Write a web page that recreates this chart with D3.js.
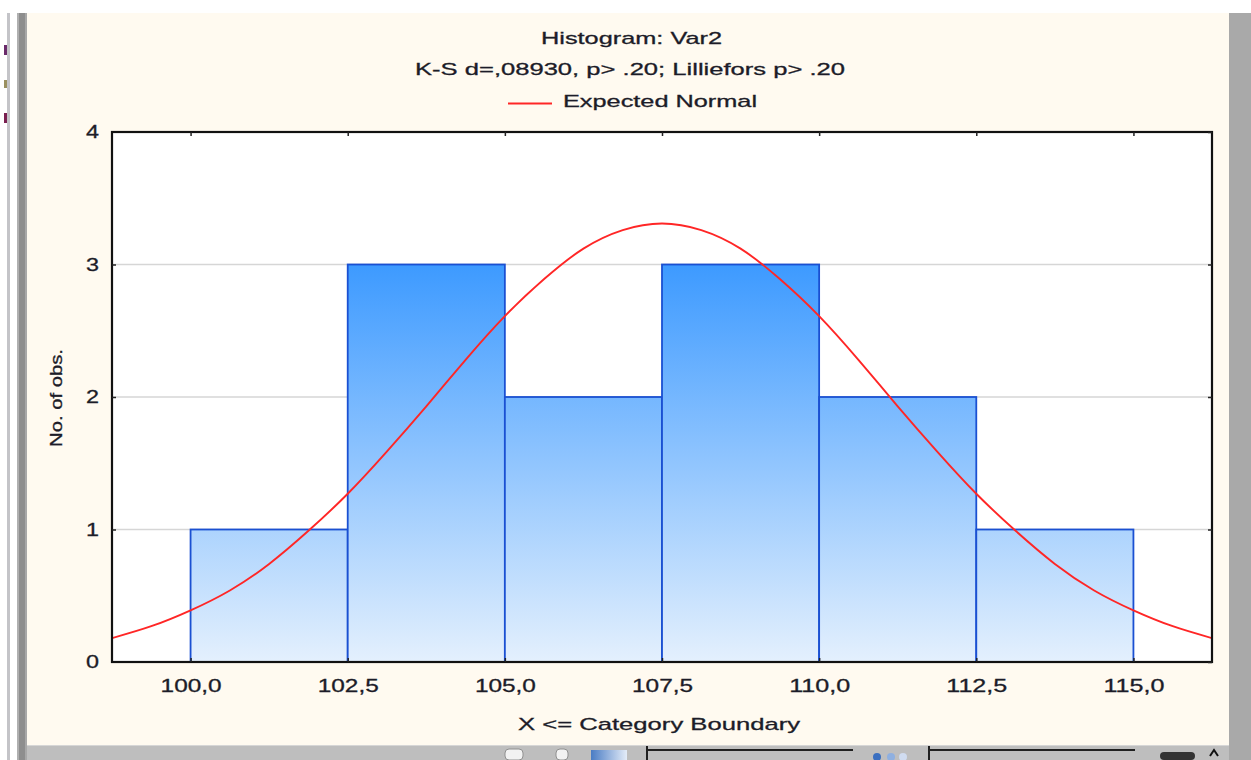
<!DOCTYPE html>
<html>
<head>
<meta charset="utf-8">
<script src="https://cdn.jsdelivr.net/npm/d3@7"></script>
<style>
  html, body { margin: 0; padding: 0; background: #ffffff; }
  svg { display: block; font-family: "Liberation Sans", Arial, sans-serif; }
  svg text { stroke: #1c1c28; stroke-width: 0.3px; }
</style>
</head>
<body>
<svg id="chart" width="1251" height="760"></svg>
<script>
// ---- data ----
const binEdges   = [100.0, 102.5, 105.0, 107.5, 110.0, 112.5, 115.0];
const binCounts  = [1, 3, 2, 3, 2, 1];
const xTickValues = [100.0, 102.5, 105.0, 107.5, 110.0, 112.5, 115.0];
const xTickLabels = ["100,0", "102,5", "105,0", "107,5", "110,0", "112,5", "115,0"];
const yTickValues = [0, 1, 2, 3, 4];
const yTickLabels = ["0", "1", "2", "3", "4"];
const yGridValues = [1, 2, 3];

// expected normal curve (expected counts per bin width)
const normalX = [98.75, 99.375, 100.0, 100.625, 101.25, 101.875, 102.5, 103.125, 103.75, 104.375,
                 105.0, 105.625, 106.25, 106.875, 107.5, 108.125, 108.75, 109.375, 110.0, 110.625,
                 111.25, 111.875, 112.5, 113.125, 113.75, 114.375, 115.0, 115.625, 116.25];
const normalY = [0.18, 0.27, 0.39, 0.54, 0.74, 0.99, 1.27, 1.59, 1.93, 2.28,
                 2.61, 2.89, 3.12, 3.26, 3.31, 3.26, 3.12, 2.89, 2.61, 2.28,
                 1.93, 1.59, 1.27, 0.99, 0.74, 0.54, 0.39, 0.27, 0.18];

const titleText    = "Histogram: Var2";
const subtitleText = "K-S d=,08930, p> .20; Lilliefors p> .20";
const legendText   = "Expected Normal";
const xTitleText   = "X <= Category Boundary";
const yTitleText   = "No. of obs.";

// ---- layout ----
const svg = d3.select("#chart");
const W = 1251, H = 760;
const plot = { left: 112, right: 1212, top: 132, bottom: 662 };
const textColor = "#1c1c28";

const x = d3.scaleLinear().domain([98.75, 116.25]).range([plot.left, plot.right]);
const y = d3.scaleLinear().domain([0, 4]).range([plot.bottom, plot.top]);

// ---- window chrome ----
const chrome = svg.append("g");
chrome.append("rect").attr("x", 0).attr("y", 0).attr("width", W).attr("height", H).attr("fill", "#ffffff");
chrome.append("rect").attr("x", 27).attr("y", 13).attr("width", 1202).attr("height", 733).attr("fill", "#fffaf0");
chrome.append("rect").attr("x", 7).attr("y", 13).attr("width", 3).attr("height", 747).attr("fill", "#c4c4c8");
chrome.append("rect").attr("x", 17).attr("y", 13).attr("width", 10).attr("height", 747).attr("fill", "#8e8e8e");
chrome.append("rect").attr("x", 17).attr("y", 13).attr("width", 2).attr("height", 747).attr("fill", "#b0b0b0");
chrome.append("rect").attr("x", 25).attr("y", 13).attr("width", 2).attr("height", 747).attr("fill", "#a8a8a8");
chrome.append("rect").attr("x", 4).attr("y", 45).attr("width", 3).attr("height", 10).attr("fill", "#6a2a6a");
chrome.append("rect").attr("x", 4).attr("y", 80).attr("width", 3).attr("height", 8).attr("fill", "#9a9060");
chrome.append("rect").attr("x", 4).attr("y", 113).attr("width", 3).attr("height", 10).attr("fill", "#7a2050");
chrome.append("rect").attr("x", 1229).attr("y", 13).attr("width", 22).attr("height", 747).attr("fill", "#a9a9a9");
chrome.append("rect").attr("x", 27).attr("y", 746).attr("width", 1202).attr("height", 14).attr("fill", "#bebebe");
chrome.append("rect").attr("x", 27).attr("y", 745).attr("width", 1202).attr("height", 1).attr("fill", "#d6d6d6");

// toolbar bits along the bottom strip
const tbGrad = svg.append("defs").append("linearGradient").attr("id", "tbGrad")
  .attr("x1", "0").attr("x2", "1").attr("y1", "0").attr("y2", "0");
tbGrad.append("stop").attr("offset", "0").attr("stop-color", "#4a7cc4");
tbGrad.append("stop").attr("offset", "1").attr("stop-color", "#e4ecf8");
chrome.append("rect").attr("x", 591).attr("y", 750).attr("width", 36).attr("height", 10).attr("fill", "url(#tbGrad)");
[[647, 853], [929, 1135]].forEach(([a, b]) => {
  chrome.append("line").attr("x1", a).attr("x2", b).attr("y1", 750).attr("y2", 750)
    .attr("stroke", "#202020").attr("stroke-width", 2);
  chrome.append("line").attr("x1", a).attr("x2", a).attr("y1", 746).attr("y2", 760)
    .attr("stroke", "#202020").attr("stroke-width", 2);
});
[["#3a6fc0", 877], ["#8fb0e0", 891], ["#d0dcf0", 903]].forEach(([c, cx]) => {
  chrome.append("circle").attr("cx", cx).attr("cy", 757).attr("r", 4).attr("fill", c);
});
chrome.append("rect").attr("x", 505).attr("y", 749).attr("width", 18).attr("height", 11).attr("rx", 4)
  .attr("fill", "#f2f2f2").attr("stroke", "#909090");
chrome.append("rect").attr("x", 556).attr("y", 749).attr("width", 12).attr("height", 11).attr("rx", 4)
  .attr("fill", "#f2f2f2").attr("stroke", "#909090");
chrome.append("rect").attr("x", 1160).attr("y", 752).attr("width", 35).attr("height", 8).attr("rx", 4)
  .attr("fill", "#333333");
chrome.append("path").attr("d", "M1210,756 L1214,750 L1218,756").attr("fill", "none")
  .attr("stroke", "#111111").attr("stroke-width", 2);

// ---- plot area ----
const defs = svg.select("defs");
const barGrad = defs.append("linearGradient").attr("id", "barGrad")
  .attr("gradientUnits", "userSpaceOnUse")
  .attr("x1", 0).attr("x2", 0).attr("y1", y(3)).attr("y2", y(0));
barGrad.append("stop").attr("offset", "0").attr("stop-color", "#3d9aff");
barGrad.append("stop").attr("offset", "1").attr("stop-color", "#e4f0fd");

defs.append("clipPath").attr("id", "plotClip").append("rect")
  .attr("x", plot.left).attr("y", plot.top)
  .attr("width", plot.right - plot.left).attr("height", plot.bottom - plot.top);

svg.append("rect").attr("x", plot.left).attr("y", plot.top)
  .attr("width", plot.right - plot.left).attr("height", plot.bottom - plot.top)
  .attr("fill", "#ffffff");

// horizontal grid
svg.append("g").selectAll("line").data(yGridValues).join("line")
  .attr("x1", plot.left).attr("x2", plot.right)
  .attr("y1", d => y(d)).attr("y2", d => y(d))
  .attr("stroke", "#d6d6d6").attr("stroke-width", 1.3);

// bars
const bins = binCounts.map((c, i) => ({ x0: binEdges[i], x1: binEdges[i + 1], count: c }));
svg.append("g").selectAll("rect").data(bins).join("rect")
  .attr("x", d => x(d.x0))
  .attr("y", d => y(d.count))
  .attr("width", d => x(d.x1) - x(d.x0))
  .attr("height", d => y(0) - y(d.count))
  .attr("fill", "url(#barGrad)")
  .attr("stroke", "#1a50d2")
  .attr("stroke-width", 1.8);

// expected normal curve
const normalPts = normalX.map((v, i) => [v, normalY[i]]);
const line = d3.line().x(d => x(d[0])).y(d => y(d[1])).curve(d3.curveNatural);
svg.append("path").datum(normalPts)
  .attr("clip-path", "url(#plotClip)")
  .attr("d", line)
  .attr("fill", "none")
  .attr("stroke", "#ff2626")
  .attr("stroke-width", 1.9);

// frame
svg.append("rect").attr("x", plot.left).attr("y", plot.top)
  .attr("width", plot.right - plot.left).attr("height", plot.bottom - plot.top)
  .attr("fill", "none").attr("stroke", "#111111").attr("stroke-width", 2.2);

// ---- axes ----
const xLabelMap = new Map(xTickValues.map((v, i) => [v, xTickLabels[i]]));
const yLabelMap = new Map(yTickValues.map((v, i) => [v, yTickLabels[i]]));

const xAxis = svg.append("g").attr("transform", `translate(0,${plot.bottom})`)
  .call(d3.axisBottom(x).tickValues(xTickValues).tickSize(-4).tickPadding(17)
    .tickFormat(d => xLabelMap.get(d)));
const xAxisTop = svg.append("g").attr("transform", `translate(0,${plot.top})`)
  .call(d3.axisTop(x).tickValues(xTickValues).tickSize(-4).tickFormat(""));
const yAxis = svg.append("g").attr("transform", `translate(${plot.left},0)`)
  .call(d3.axisLeft(y).tickValues(yTickValues).tickSize(-4).tickPadding(13)
    .tickFormat(d => yLabelMap.get(d)));
const yAxisRight = svg.append("g").attr("transform", `translate(${plot.right},0)`)
  .call(d3.axisRight(y).tickValues(yTickValues).tickSize(-4).tickFormat(""));

[xAxis, xAxisTop, yAxis, yAxisRight].forEach(g => {
  g.select(".domain").remove();
  g.selectAll(".tick line").attr("stroke", "#222222").attr("stroke-width", 1.5);
});
xAxis.selectAll(".tick text")
  .attr("font-size", 18).attr("fill", textColor)
  .attr("textLength", 61).attr("lengthAdjust", "spacingAndGlyphs");
yAxis.selectAll(".tick text")
  .attr("font-size", 18).attr("fill", textColor)
  .attr("textLength", 13).attr("lengthAdjust", "spacingAndGlyphs");
yAxis.selectAll(".tick").filter(d => d === 0 || d === 4).select("line").remove();

// ---- titles ----
function label(text, cx, baseline, size, len) {
  return svg.append("text")
    .attr("x", cx).attr("y", baseline)
    .attr("text-anchor", "middle")
    .attr("font-size", size)
    .attr("fill", textColor)
    .attr("textLength", len).attr("lengthAdjust", "spacingAndGlyphs")
    .text(text);
}
label(titleText, 631.5, 44, 17, 181);
label(subtitleText, 630, 75, 17, 430);
label(legendText, 660, 107, 17, 194);
svg.append("line").attr("x1", 508).attr("x2", 552).attr("y1", 103.5).attr("y2", 103.5)
  .attr("stroke", "#ff2626").attr("stroke-width", 1.9);
label(xTitleText, 659, 730, 17, 282);
svg.append("text")
  .attr("transform", "translate(62,398) rotate(-90)")
  .attr("text-anchor", "middle")
  .attr("font-size", 17)
  .attr("fill", textColor)
  .attr("textLength", 98).attr("lengthAdjust", "spacingAndGlyphs")
  .text(yTitleText);
</script>
</body>
</html>
